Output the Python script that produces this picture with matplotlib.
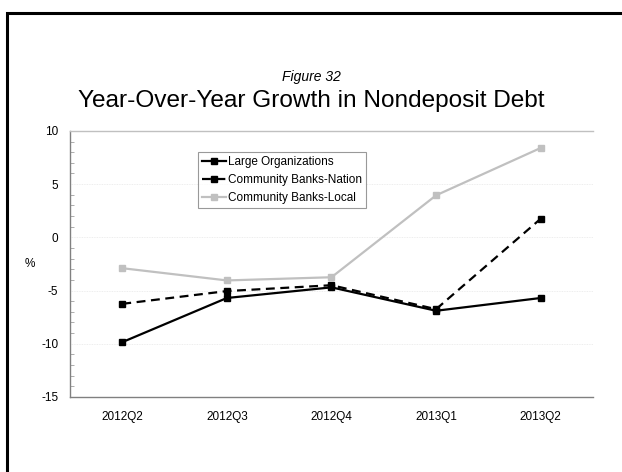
import matplotlib.pyplot as plt
from matplotlib.patches import Rectangle
from matplotlib.ticker import MultipleLocator

plt.rcParams['font.family'] = ['Liberation Sans', 'DejaVu Sans']
plt.rcParams['axes.unicode_minus'] = False

quarters = ['2012Q2', '2012Q3', '2012Q4', '2013Q1', '2013Q2']
large_orgs = [-9.85, -5.7, -4.7, -6.9, -5.7]
cb_nation = [-6.25, -5.05, -4.5, -6.75, 1.75]
cb_local = [-2.9, -4.05, -3.75, 3.95, 8.4]

fig = plt.figure(figsize=(6.22, 4.72), dpi=100)
ax = fig.add_axes([0.1125, 0.159, 0.8409, 0.5636])

# outer frame around the whole chart
fig.patches.append(Rectangle((6.5 / 622, -0.1), 1.2, 1.1 - 13 / 472,
                             transform=fig.transFigure, fill=False,
                             edgecolor='black', linewidth=2.2))

x = range(len(quarters))
ax.plot(x, large_orgs, color='black', lw=1.6, marker='s', ms=4.5,
        label='Large Organizations')
ax.plot(x, cb_nation, color='black', lw=1.6, ls=(0, (4, 2.5)), marker='s',
        ms=4.5, label='Community Banks-Nation')
ax.plot(x, cb_local, color='#c0c0c0', lw=1.6, marker='s', ms=4.5,
        label='Community Banks-Local')

ax.set_xlim(-0.5, 4.5)
ax.set_ylim(-15, 10)
ax.set_xticks(list(x))
ax.set_xticklabels(quarters)
ax.yaxis.set_major_locator(MultipleLocator(5))
ax.yaxis.set_minor_locator(MultipleLocator(1))
ax.tick_params(axis='both', which='major', length=0, labelsize=8.5, pad=10)
ax.tick_params(axis='y', which='major', pad=8.5)
ax.tick_params(axis='y', which='minor', direction='in', length=3,
               color='#a0a0a0', width=0.6)

for v in [-10, -5, 0, 5]:
    ax.axhline(v, color='#e8e8e8', lw=0.6, ls=(0, (1, 1)), zorder=0)

for side in ['left', 'bottom']:
    ax.spines[side].set_color('#808080')
    ax.spines[side].set_linewidth(1.0)
ax.spines['top'].set_color('#c0c0c0')
ax.spines['top'].set_linewidth(1.0)
ax.spines['right'].set_visible(False)

ax.set_ylabel('%', rotation=0, fontsize=8.5, va='center', ha='center')
ax.yaxis.set_label_coords(-0.077, 0.5)

leg = ax.legend(loc='upper left', bbox_to_anchor=(0.245, 0.92), fontsize=8.5,
                frameon=True, fancybox=False, handlelength=2.0,
                handletextpad=0.2, borderpad=0.35, labelspacing=0.5,
                borderaxespad=0)
leg.get_frame().set_edgecolor('#808080')
leg.get_frame().set_linewidth(0.8)

fig.text(0.5, 1 - 77 / 472, 'Figure 32', ha='center', va='center',
         fontsize=10, style='italic')
fig.text(0.5, 1 - 101 / 472, 'Year-Over-Year Growth in Nondeposit Debt',
         ha='center', va='center', fontsize=17.6)

fig.savefig('out.png', dpi=100)
